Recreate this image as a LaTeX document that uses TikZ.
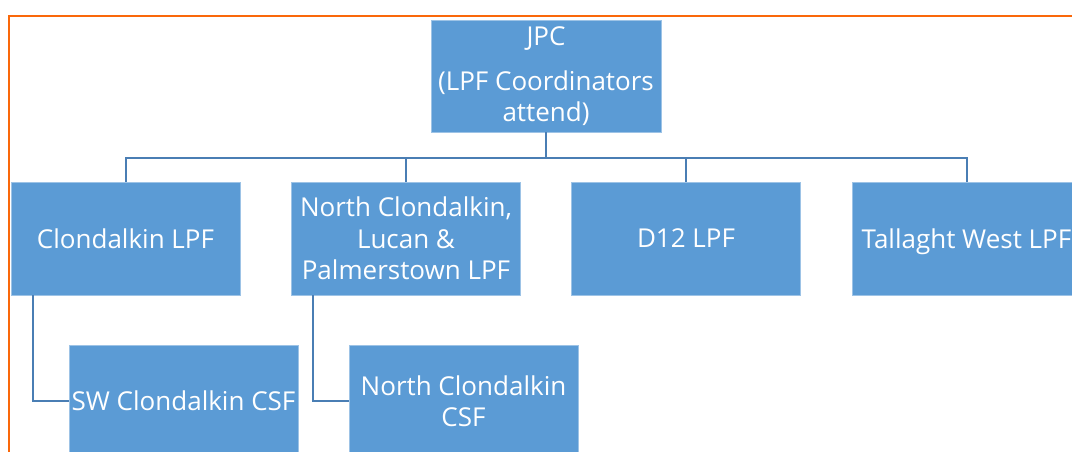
\documentclass[tikz,border=0pt]{standalone}
\usepackage{fontspec}
\setmainfont{Open Sans}
\definecolor{boxblue}{RGB}{91,155,213}
\definecolor{lineblue}{RGB}{74,126,180}
\definecolor{frameorange}{RGB}{250,104,10}
\tikzset{
  orgbox/.style={rectangle, fill=boxblue, draw=boxblue!60!white, line width=0.6pt, inner sep=0pt,
    minimum width=229pt, minimum height=112pt, text=white, align=center,
    font=\fontsize{26}{31.5}\selectfont},
  link/.style={draw=lineblue, line width=2pt},
  frame/.style={draw=frameorange, line width=2.4pt}
}
\begin{document}
\begin{tikzpicture}[x=1pt,y=-1pt]
\useasboundingbox (0,0) rectangle (1072,452);
\clip (0,0) rectangle (1072,452);
\fill[white] (0,0) rectangle (1072,452);
\draw[frame] (9,460) -- (9,16) -- (1080,16);
\node[orgbox, minimum width=230pt] (jpc) at (546,76) {JPC\\[13.5pt](LPF Coordinators\\attend)};
\node[orgbox, minimum height=113pt] (c1) at (125.5,238.5) {Clondalkin LPF};
\node[orgbox, minimum height=113pt] (c2) at (406,238.5) {North Clondalkin,\\Lucan \&\\Palmerstown LPF};
\node[orgbox, minimum height=113pt] (c3) at (686,238.5) {D12 LPF};
\node[orgbox, minimum height=113pt, text depth=0pt] (c4) at (966.5,238.5) {Tallaght West LPF};
\node[orgbox] (g1) at (183.5,401) {SW Clondalkin CSF};
\node[orgbox] (g2) at (463.5,401) {North Clondalkin\\CSF};
\coordinate (bus) at (546,157.5);
\draw[link] (jpc.south) -- (bus);
\draw[link] (c1.north) |- (bus);
\draw[link] (c2.north) |- (bus);
\draw[link] (c3.north) |- (bus);
\draw[link] (c4.north) |- (bus);
\draw[link] ([xshift=-92.5pt]c1.south) |- (g1.west);
\draw[link] ([xshift=-93pt]c2.south) |- (g2.west);
\end{tikzpicture}
\end{document}
